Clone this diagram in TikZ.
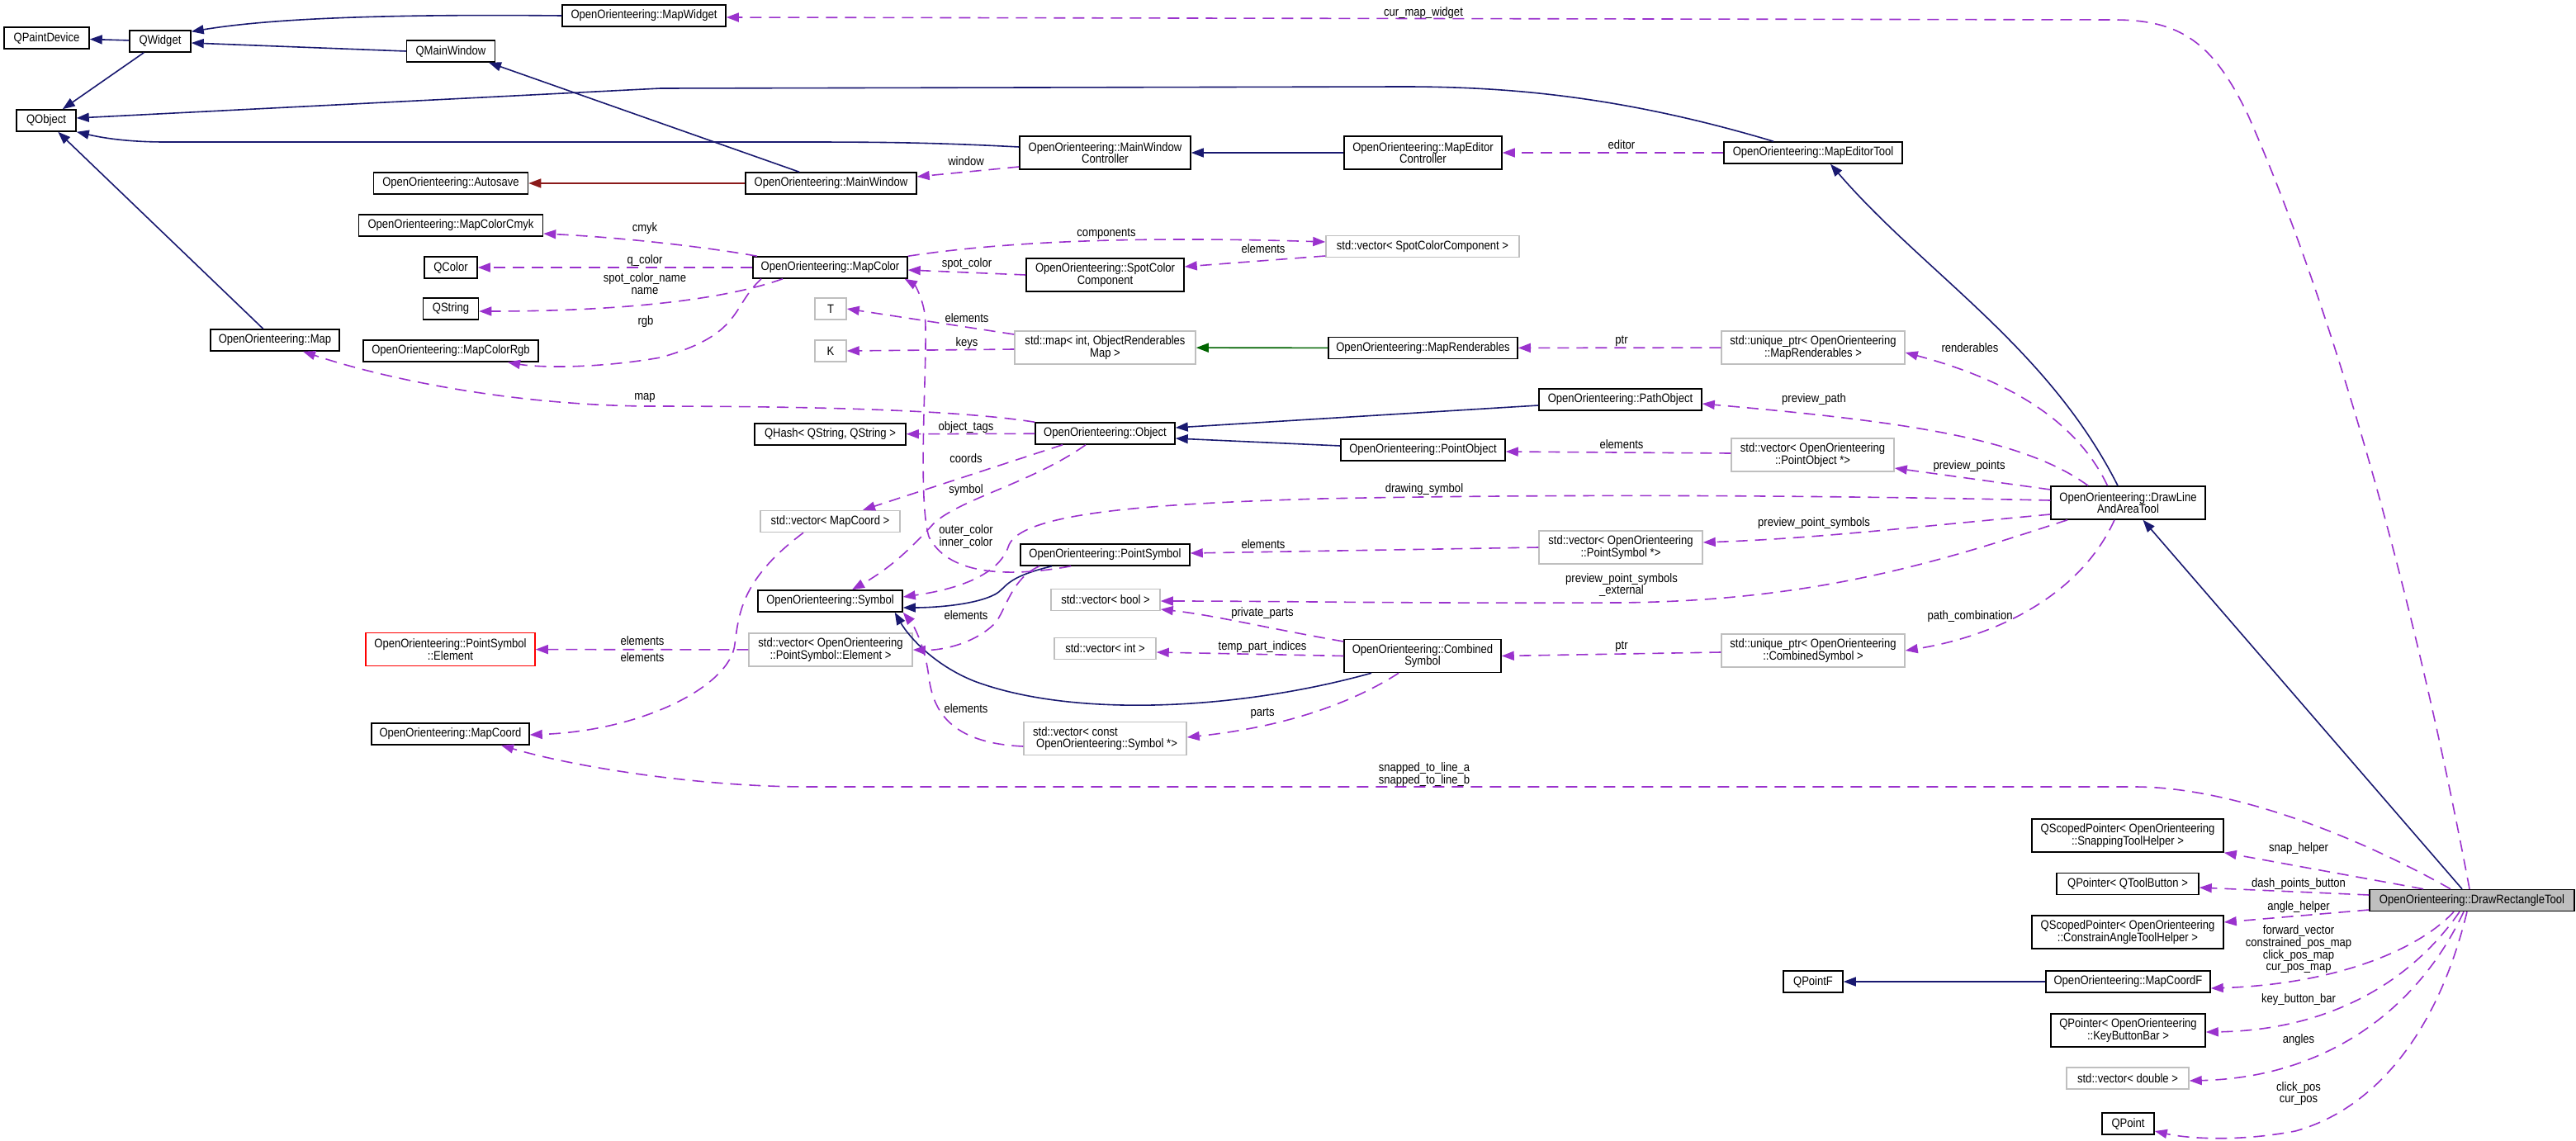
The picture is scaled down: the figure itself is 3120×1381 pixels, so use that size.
\documentclass[tikz,border=0pt]{standalone}
\usepackage{fontspec}
\setmainfont{Liberation Sans}[FakeStretch=0.87]
\usetikzlibrary{arrows.meta}
\definecolor{dblue}{HTML}{191970}
\definecolor{dorchid}{HTML}{9A32CD}
\definecolor{fbrick}{HTML}{8B1A1A}
\definecolor{dgreen}{HTML}{006400}
\definecolor{grey75}{HTML}{BFBFBF}
\tikzset{
  cls/.style={draw=black, line width=1.5pt, fill=white, inner sep=0pt, minimum height=26pt, align=center},
  cls2/.style={cls, minimum height=40pt},
  tpl/.style={cls, draw=grey75},
  tpl2/.style={cls2, draw=grey75},
  lbl/.style={inner sep=0pt, text height=10.5pt, text depth=3pt},
  mlbl/.style={inner sep=0pt, align=center},
  inh/.style={draw=dblue, line width=1.6pt, -{Triangle[length=15pt,width=11pt]}},
  use/.style={draw=dorchid, line width=1.6pt, dash pattern=on 14pt off 9pt, -{Triangle[length=15pt,width=11pt]}}
}
\begin{document}
\begin{tikzpicture}[x=1pt,y=-1pt, font=\fontsize{15}{14.7}\selectfont]
\fill[white] (0,0) rectangle (3120,1381);
\useasboundingbox (0,0) rectangle (3120,1381);

% ---------- nodes ----------
\node[cls, minimum width=103pt] (qpaintdevice) at (56.5,46) {QPaintDevice};
\node[cls, minimum width=74pt] (qwidget) at (194,50) {QWidget};
\node[cls, minimum width=107pt] (qmainwindow) at (546,62) {QMainWindow};
\node[cls, minimum width=72pt] (qobject) at (56,146) {QObject};
\node[cls, minimum width=198pt] (mapwidget) at (780,19) {OpenOrienteering::MapWidget};
\node[cls, minimum width=187pt] (autosave) at (546,222) {OpenOrienteering::Autosave};
\node[cls, minimum width=223pt] (cmyk) at (546,273) {OpenOrienteering::MapColorCmyk};
\node[cls, minimum width=64pt] (qcolor) at (546,324) {QColor};
\node[cls, minimum width=67pt] (qstring) at (546,374) {QString};
\node[cls, minimum width=156pt] (map) at (333,412) {OpenOrienteering::Map};
\node[cls, minimum width=212pt] (rgb) at (546,425) {OpenOrienteering::MapColorRgb};
\node[cls2, minimum width=207pt] (mwc) at (1338.5,185) {OpenOrienteering::MainWindow\\Controller};
\node[cls, minimum width=207pt] (mainwindow) at (1006.5,222) {OpenOrienteering::MainWindow};
\node[cls, minimum width=187pt] (mapcolor) at (1005.5,324) {OpenOrienteering::MapColor};
\node[cls2, minimum width=191pt] (spotcc) at (1338.5,333) {OpenOrienteering::SpotColor\\Component};
\node[tpl, minimum width=38pt] (tT) at (1006,374) {T};
\node[tpl, minimum width=38pt] (tK) at (1006,425) {K};
\node[tpl2, minimum width=219pt] (stdmap) at (1338.5,421) {std::map< int, ObjectRenderables\\Map >};
\node[cls2, minimum width=191pt] (mec) at (1723.5,185) {OpenOrienteering::MapEditor\\Controller};
\node[cls, minimum width=216pt] (met) at (2196,185) {OpenOrienteering::MapEditorTool};
\node[tpl, minimum width=234pt] (vecscc) at (1723,298.5) {std::vector< SpotColorComponent >};
\node[cls, minimum width=229pt] (mrend) at (1723.5,421.5) {OpenOrienteering::MapRenderables};
\node[tpl2, minimum width=222pt] (uptrmr) at (2196,421) {std::unique\_ptr< OpenOrienteering\\::MapRenderables >};
\node[cls, minimum width=169pt] (object) at (1338.5,525) {OpenOrienteering::Object};
\node[cls, minimum width=183pt] (qhash) at (1005.5,526) {QHash< QString, QString >};
\node[tpl, minimum width=169pt] (vecmc) at (1005.5,631.5) {std::vector< MapCoord >};
\node[cls, minimum width=175pt] (symbol) at (1005.5,728) {OpenOrienteering::Symbol};
\node[tpl2, minimum width=198pt] (vecpse) at (1006,787) {std::vector< OpenOrienteering\\::PointSymbol::Element >};
\node[cls, minimum width=205pt] (psym) at (1338.5,672) {OpenOrienteering::PointSymbol};
\node[tpl, minimum width=132pt] (vecbool) at (1339,726.5) {std::vector< bool >};
\node[tpl, minimum width=123pt] (vecint) at (1338.5,785.5) {std::vector< int >};
\node[tpl2, minimum width=197pt, align=left] (veccs) at (1338.5,894.5) {std::vector< const\\\hspace*{4pt}OpenOrienteering::Symbol *>};
\node[cls2, draw=red, minimum width=205pt] (pse) at (545.5,786.5) {OpenOrienteering::PointSymbol\\::Element};
\node[cls, minimum width=191pt] (mapcoord) at (545.5,889) {OpenOrienteering::MapCoord};
\node[cls, minimum width=197pt] (pathobj) at (1962.5,484) {OpenOrienteering::PathObject};
\node[cls, minimum width=199pt] (pointobj) at (1723.5,545) {OpenOrienteering::PointObject};
\node[tpl2, minimum width=197pt] (vecpo) at (2195.5,551) {std::vector< OpenOrienteering\\::PointObject *>};
\node[tpl2, minimum width=198pt] (vecps) at (1963,663) {std::vector< OpenOrienteering\\::PointSymbol *>};
\node[cls2, minimum width=190pt] (combined) at (1723,794.5) {OpenOrienteering::Combined\\Symbol};
\node[tpl2, minimum width=222pt] (uptrcs) at (2196,788) {std::unique\_ptr< OpenOrienteering\\::CombinedSymbol >};
\node[cls2, minimum width=187pt] (dlat) at (2577.5,609) {OpenOrienteering::DrawLine\\AndAreaTool};
\node[cls, fill=grey75, minimum width=248pt] (drt) at (2994,1090.5) {OpenOrienteering::DrawRectangleTool};
\node[cls2, minimum width=232pt] (qsp1) at (2577,1012) {QScopedPointer< OpenOrienteering\\::SnappingToolHelper >};
\node[cls, minimum width=172pt] (qptb) at (2577,1070.5) {QPointer< QToolButton >};
\node[cls2, minimum width=232pt] (qsp2) at (2577,1129) {QScopedPointer< OpenOrienteering\\::ConstrainAngleToolHelper >};
\node[cls, minimum width=199pt] (mcf) at (2577.5,1189) {OpenOrienteering::MapCoordF};
\node[cls2, minimum width=187pt] (qpkbb) at (2577.5,1248) {QPointer< OpenOrienteering\\::KeyButtonBar >};
\node[tpl, minimum width=148pt] (vecdbl) at (2577,1306) {std::vector< double >};
\node[cls, minimum width=63pt] (qpoint) at (2577.5,1361) {QPoint};
\node[cls, minimum width=72pt] (qpointf) at (2196,1189) {QPointF};

% ---------- inheritance ----------
\draw[inh] (qwidget) -- (qpaintdevice);
\draw[inh] (mapwidget.west) .. controls (470,17) and (330,22) .. ([yshift=-2pt]qwidget.north east);
\draw[inh] (qmainwindow.west) -- ([yshift=-2pt]qwidget.east);
\draw[inh] (qwidget) -- (qobject);
\draw[inh] ([xshift=-38.5pt]mainwindow.north) -- ([xshift=46pt]qmainwindow.south);
\draw[inh] ([yshift=7pt]mwc.west) .. controls (1120,172) and (1050,172) .. (950,172) -- (200,172) .. controls (150,172) and (120,166) .. (qobject.south east);
\draw[inh] ([xshift=-48pt]met.north) .. controls (1960,115) and (1820,105) .. (1700,105) -- (800,107) -- ([yshift=3pt]qobject.east);
\draw[inh] (map) -- (qobject);
\draw[inh] (mec) -- (mwc);
\draw[inh, draw=fbrick] (mainwindow) -- (autosave);
\draw[inh, draw=dgreen] (mrend) -- (stdmap);
\draw[inh] ([yshift=-7pt]pathobj.west) -- ([yshift=7pt]object.east);
\draw[inh] ([yshift=5pt]pointobj.west) -- ([yshift=-6pt]object.east);
\draw[inh] ([xshift=-64.5pt]psym.south) .. controls (1215,700) and (1220,712) .. (1205,720) .. controls (1180,733) and (1130,736) .. ([yshift=-8pt]symbol.east);
\draw[inh] ([xshift=-62pt]combined.south) .. controls (1500,860) and (1300,870) .. (1180,825) .. controls (1130,805) and (1100,770) .. ([xshift=-10pt]symbol.south east);
\draw[inh] ([xshift=-12pt]drt.north) -- ([xshift=18pt]dlat.south);
\draw[inh] ([xshift=-12.5pt]dlat.north) .. controls (2480,420) and (2330,330) .. ([xshift=21pt]met.south);
\draw[inh] (mcf) -- (qpointf);

% ---------- usage ----------
\draw[use] ([xshift=-3pt]drt.north) .. controls (2920,700) and (2820,360) .. (2723,140) .. controls (2680,50) and (2640,24) .. (2560,24) -- ([yshift=-2pt]mapwidget.east);
\draw[use] (met) -- (mec);
\draw[use] ([yshift=-17pt]mwc.west) -- ([yshift=8pt]mainwindow.east);
\draw[use] ([xshift=-88.5pt]mapcolor.north) .. controls (860,300) and (760,288) .. ([yshift=-10pt]cmyk.east);
\draw[use] (mapcolor) -- (qcolor);
\draw[use] ([xshift=-57.5pt]mapcolor.south) .. controls (880,362) and (760,377) .. ([yshift=-3pt]qstring.east);
\draw[use] ([xshift=-83.5pt]mapcolor.south) .. controls (885,372) and (900,405) .. (800,433) .. controls (720,447) and (650,445) .. ([xshift=69pt]rgb.south);
\draw[use] (mapcolor.north east) .. controls (1200,295) and (1350,285) .. ([yshift=5.5pt]vecscc.west);
\draw[use] ([yshift=-11.5pt]vecscc.west) -- ([yshift=10pt]spotcc.east);
\draw[use] (spotcc.west) -- ([yshift=-3pt]mapcolor.east);
\draw[use] ([yshift=16pt]stdmap.west) -- (tT.east);
\draw[use] ([yshift=-2pt]stdmap.west) -- (tK.east);
\draw[use] (uptrmr) -- (mrend);
\draw[use] ([xshift=-25pt]dlat.north) .. controls (2520,520) and (2450,465) .. ([yshift=-6pt]uptrmr.east);
\draw[use] ([xshift=-48.5pt]dlat.north) .. controls (2450,530) and (2300,510) .. ([yshift=-5pt]pathobj.east);
\draw[use] ([yshift=16pt]dlat.west) -- ([yshift=-16pt]vecpo.east);
\draw[use] ([yshift=2pt]vecpo.west) -- ([yshift=-2pt]pointobj.east);
\draw[use] ([yshift=3pt]dlat.west) .. controls (2200,600) and (1900,598) .. (1600,604) .. controls (1400,610) and (1240,620) .. (1222,660) .. controls (1210,700) and (1150,715) .. ([yshift=5pt]symbol.east);
\draw[use] ([yshift=-14pt]dlat.west) .. controls (2300,640) and (2200,652) .. ([yshift=6pt]vecps.east);
\draw[use] ([xshift=-73.5pt]dlat.south) .. controls (2350,680) and (2200,728) .. (1960,730) .. controls (1700,731) and (1550,728) .. ([yshift=-1.5pt]vecbool.east);
\draw[use] ([xshift=-16.5pt]dlat.south) .. controls (2520,720) and (2420,770) .. (uptrcs.east);
\draw[use] ([yshift=-2pt]uptrcs.west) -- (combined.east);
\draw[use] ([yshift=17.5pt]combined.west) .. controls (1530,760) and (1470,745) .. ([yshift=-11.5pt]vecbool.east);
\draw[use] (combined.west) -- ([yshift=-4.5pt]vecint.east);
\draw[use] ([xshift=-29pt]combined.south) .. controls (1640,850) and (1560,880) .. ([yshift=1.5pt]veccs.east);
\draw[use] (object) -- (qhash);
\draw[use] ([xshift=-51.5pt]object.south) -- ([xshift=39.5pt]vecmc.north);
\draw[use] ([xshift=-23.5pt]object.south) .. controls (1250,585) and (1160,605) .. (1130,635) .. controls (1100,668) and (1075,690) .. ([xshift=26.5pt]symbol.north);
\draw[use] (object.north west) .. controls (1150,495) and (950,492) .. (781,492) .. controls (620,490) and (470,460) .. ([xshift=34pt]map.south);
\draw[use] ([xshift=-41.5pt]psym.south) .. controls (1230,698) and (1150,700) .. (1125,650) .. controls (1110,600) and (1125,420) .. (1120,380) .. controls (1117,360) and (1108,345) .. ([xshift=-4pt]mapcolor.south east);
\draw[use] ([xshift=-79.5pt]psym.south) .. controls (1225,700) and (1218,740) .. (1205,755) .. controls (1180,780) and (1140,788) .. (vecpse.east);
\draw[use] (vecps.west) -- ([yshift=2pt]psym.east);
\draw[use] (vecpse) -- (pse);
\draw[use] ([xshift=-32.5pt]vecmc.south) .. controls (900,700) and (895,740) .. (890,780) .. controls (885,830) and (780,885) .. ([yshift=-1pt]mapcoord.east);
\draw[use] ([yshift=-9.5pt]veccs.west) .. controls (1150,900) and (1130,860) .. (1125,820) .. controls (1120,780) and (1105,755) .. (symbol.south east);
\draw[use] ([xshift=-26pt]drt.north) .. controls (2850,1010) and (2700,953) .. (2585,953) -- (979,953) .. controls (850,953) and (700,930) .. ([xshift=61.5pt]mapcoord.south);
\draw[use] ([xshift=-59pt]drt.north) -- (qsp1.south east);
\draw[use] ([yshift=6.5pt]drt.west) -- ([yshift=-4.5pt]qptb.east);
\draw[use] ([yshift=-11.5pt]drt.west) -- ([yshift=12pt]qsp2.east);
\draw[use] ([xshift=-22pt]drt.south) .. controls (2930,1150) and (2830,1192) .. ([yshift=-8pt]mcf.east);
\draw[use] ([xshift=-15pt]drt.south) .. controls (2920,1190) and (2820,1248) .. ([yshift=-2pt]qpkbb.east);
\draw[use] ([xshift=-10pt]drt.south) .. controls (2930,1220) and (2820,1305) .. ([yshift=-3pt]vecdbl.east);
\draw[use] ([xshift=-6pt]drt.south) .. controls (2950,1260) and (2870,1345) .. (2780,1370) .. controls (2700,1385) and (2640,1377) .. ([yshift=-9pt]qpoint.east);

% ---------- labels ----------
\node[lbl] (l1) at (1724,16) {cur\_map\_widget};
\node[lbl] (l2) at (1964,177) {editor};
\node[lbl] (l3) at (1170,197) {window};
\node[lbl] (l4) at (781,277) {cmyk};
\node[lbl] (l5) at (781,316) {q\_color};
\node[mlbl] (l6) at (781,343.5) {spot\_color\_name\\name};
\node[lbl] (l7) at (782,390) {rgb};
\node[lbl] (l8) at (1340,283) {components};
\node[lbl] (l9) at (1530,303) {elements};
\node[lbl] (l10) at (1171,320) {spot\_color};
\node[lbl] (l11) at (1171,387) {elements};
\node[lbl] (l12) at (1171,416) {keys};
\node[lbl] (l13) at (1964,413) {ptr};
\node[lbl] (l14) at (2386,423) {renderables};
\node[lbl] (l15) at (2197,484) {preview\_path};
\node[lbl] (l16) at (1964,540) {elements};
\node[lbl] (l17) at (2385,565) {preview\_points};
\node[lbl] (l18) at (1725,593) {drawing\_symbol};
\node[lbl] (l19) at (2197,634) {preview\_point\_symbols};
\node[mlbl] (l20) at (1964,708.5) {preview\_point\_symbols\\\_external};
\node[lbl] (l21) at (2386,747) {path\_combination};
\node[lbl] (l22) at (1964,783) {ptr};
\node[lbl] (l23) at (1529,743) {private\_parts};
\node[lbl] (l24) at (1529,784) {temp\_part\_indices};
\node[lbl] (l25) at (1529,864) {parts};
\node[lbl] (l26) at (1170,518) {object\_tags};
\node[lbl] (l27) at (1170,557) {coords};
\node[lbl] (l28) at (1170,594) {symbol};
\node[lbl] (l29) at (781,481) {map};
\node[mlbl] (l30) at (1170,650) {outer\_color\\inner\_color};
\node[lbl] (l31) at (1170,747) {elements};
\node[lbl] (l32) at (1530,661) {elements};
\node[lbl] (l33) at (778,778) {elements};
\node[lbl] (l34) at (778,798) {elements};
\node[lbl] (l35) at (1170,860) {elements};
\node[mlbl] (l36) at (1725,938) {snapped\_to\_line\_a\\snapped\_to\_line\_b};
\node[lbl] (l37) at (2784,1028) {snap\_helper};
\node[lbl] (l38) at (2784,1071) {dash\_points\_button};
\node[lbl] (l39) at (2784,1099) {angle\_helper};
\node[mlbl] (l40) at (2784,1150) {forward\_vector\\constrained\_pos\_map\\click\_pos\_map\\cur\_pos\_map};
\node[lbl] (l41) at (2784,1211) {key\_button\_bar};
\node[lbl] (l42) at (2784,1260) {angles};
\node[mlbl] (l43) at (2784,1324.5) {click\_pos\\cur\_pos};
\end{tikzpicture}
\end{document}
